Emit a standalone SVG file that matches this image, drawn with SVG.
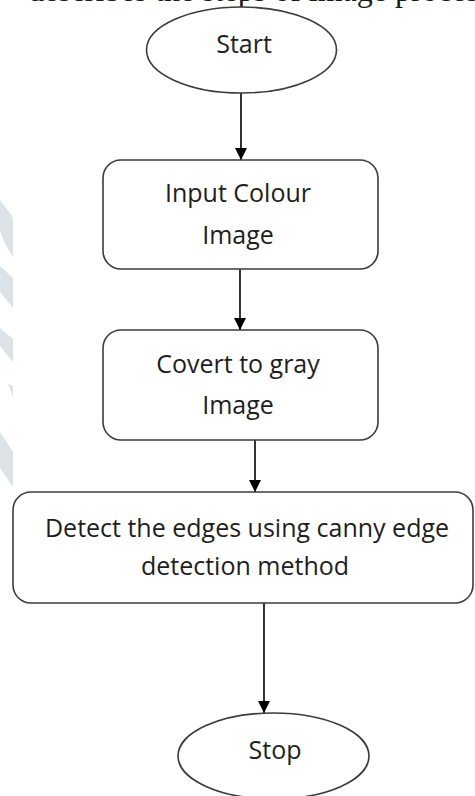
<svg xmlns="http://www.w3.org/2000/svg" width="475" height="796" viewBox="0 0 475 796">
  <defs>
    <style>
      .node { fill: #ffffff; stroke: #3c3c3c; stroke-width: 1.6; }
      .label { font-family: "Open Sans", "Noto Sans", "DejaVu Sans", sans-serif; font-size: 25px; fill: #1e1e1e; text-anchor: middle; }
      .edge { stroke: #000000; stroke-width: 1.6; fill: none; marker-end: url(#arrow); }
      .mark { fill: #dce3e8; }
      .body { font-family: "Liberation Serif", "Times New Roman", serif; font-size: 32px; fill: #1a1a1a; }
    </style>
    <marker id="arrow" viewBox="0 0 10 10" refX="10" refY="5" markerWidth="7.5" markerHeight="7.5" markerUnits="strokeWidth" orient="auto">
      <path d="M0,0 L10,5 L0,10 Z" fill="#000000"/>
    </marker>
  </defs>

  <rect x="0" y="0" width="475" height="796" fill="#ffffff"/>

  <!-- faint page decoration along the left margin -->
  <g id="margin-decoration">
    <path class="mark" d="M0,200 L12,216 L13,221 L13,257 Q3,242 0,230 Z"/>
    <path class="mark" d="M0,266 L13,278 L13,308 L0,292 Z"/>
    <path class="mark" d="M0,328 L13,339 L13,362 L0,346 Z"/>
    <path class="mark" d="M8,384 L13,386 L13,397 Z"/>
    <path class="mark" d="M0,432 L13,452 L13,487 L0,468 Z"/>
  </g>

  <!-- running text from the page above, clipped at the top edge -->
  <text class="body" x="28" y="1">describes the steps of image processing</text>

  <g id="connectors">
    <line class="edge" x1="241" y1="93" x2="241" y2="160"/>
    <line class="edge" x1="240" y1="269" x2="240" y2="330"/>
    <line class="edge" x1="255" y1="440" x2="255" y2="492"/>
    <line class="edge" x1="264" y1="603" x2="264" y2="713"/>
  </g>

  <g id="start">
    <ellipse class="node" cx="241.5" cy="50" rx="95" ry="43"/>
    <text class="label" x="244" y="53">Start</text>
  </g>

  <g id="input-colour-image">
    <rect class="node" x="103" y="160" width="275" height="109" rx="18" ry="18"/>
    <text class="label" x="238" y="202">Input Colour</text>
    <text class="label" x="238" y="244">Image</text>
  </g>

  <g id="convert-to-gray">
    <rect class="node" x="103" y="330" width="275" height="110" rx="18" ry="18"/>
    <text class="label" x="238" y="373">Covert to gray</text>
    <text class="label" x="238" y="414">Image</text>
  </g>

  <g id="detect-edges">
    <rect class="node" x="13" y="492" width="460" height="111" rx="18" ry="18"/>
    <text class="label" x="247" y="537">Detect the edges using canny edge</text>
    <text class="label" x="245" y="575">detection method</text>
  </g>

  <g id="stop">
    <ellipse class="node" cx="273.5" cy="756" rx="95.5" ry="43"/>
    <text class="label" x="275" y="759">Stop</text>
  </g>
</svg>
